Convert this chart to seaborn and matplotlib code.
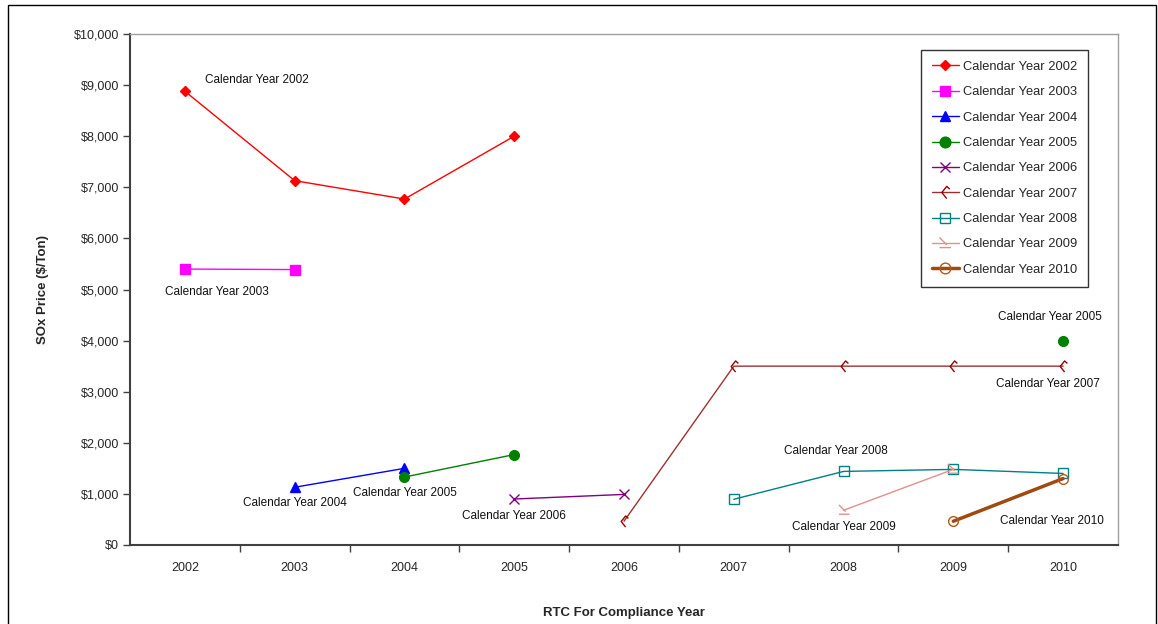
import numpy as np
import pandas as pd
import matplotlib
matplotlib.use("Agg")
import matplotlib.pyplot as plt
from matplotlib.path import Path
from matplotlib.patches import Rectangle
from matplotlib.ticker import FixedLocator, FuncFormatter
import seaborn as sns

# RTC compliance years on the category axis
rtc_years = [2002, 2003, 2004, 2005, 2006, 2007, 2008, 2009, 2010]

# SOx RTC prices ($/ton) traded in each calendar year, by compliance year
nan = np.nan
price_2002 = [8880, 7130, 6770, 8000, nan, nan, nan, nan, nan]
price_2003 = [5400, 5390, nan, nan, nan, nan, nan, nan, nan]
price_2004 = [nan, 1130, 1500, nan, nan, nan, nan, nan, nan]
price_2005 = [nan, nan, 1330, 1770, nan, nan, nan, nan, 4000]
price_2006 = [nan, nan, nan, 900, 990, nan, nan, nan, nan]
price_2007 = [nan, nan, nan, nan, 465, 3500, 3500, 3500, 3500]
price_2008 = [nan, nan, nan, nan, nan, 895, 1440, 1480, 1400]
price_2009 = [nan, nan, nan, nan, nan, nan, 680, 1480, nan]
price_2010 = [nan, nan, nan, nan, nan, nan, nan, 465, 1300]

series_names = ["Calendar Year 2002", "Calendar Year 2003", "Calendar Year 2004",
                "Calendar Year 2005", "Calendar Year 2006", "Calendar Year 2007",
                "Calendar Year 2008", "Calendar Year 2009", "Calendar Year 2010"]
series_values = [price_2002, price_2003, price_2004, price_2005, price_2006,
                 price_2007, price_2008, price_2009, price_2010]

# in-plot labels: text, x (year), y ($)
label_texts = ["Calendar Year 2002", "Calendar Year 2003", "Calendar Year 2004",
               "Calendar Year 2005", "Calendar Year 2006", "Calendar Year 2005",
               "Calendar Year 2007", "Calendar Year 2008", "Calendar Year 2009",
               "Calendar Year 2010"]
label_x = [2002.66, 2002.29, 2003.0, 2004.0, 2005.0, 2009.88, 2009.86, 2007.93, 2008.0, 2009.9]
label_y = [9100, 4950, 820, 1020, 570, 4460, 3150, 1840, 350, 470]

# custom hooked marks
hook_marker = Path([(0.7, 0.55), (0.2, 1.0), (-0.6, 0.0), (0.2, -1.0)],
                   [Path.MOVETO, Path.LINETO, Path.LINETO, Path.LINETO])
half_triangle = Path([(-0.9, 0.9), (0.2, -0.2), (-0.9, -0.6), (0.8, -0.6)],
                     [Path.MOVETO, Path.LINETO, Path.MOVETO, Path.LINETO])

styles = [
    dict(color="#FF0000", marker="D", ms=5, mfc="#FF0000", mec="#FF0000", lw=1.0),
    dict(color="#FF00FF", marker="s", ms=7, mfc="#FF00FF", mec="#FF00FF", lw=1.0),
    dict(color="#0000FF", marker="^", ms=7, mfc="#0000FF", mec="#0000FF", lw=1.0),
    dict(color="#008000", marker="o", ms=7, mfc="#008000", mec="#008000", lw=1.0),
    dict(color="#800080", marker="x", ms=7, mfc="#800080", mec="#800080", lw=1.0),
    dict(color="#A03030", marker=hook_marker, ms=8, mfc="none", mec="#990000", lw=1.0),
    dict(color="#008080", marker="s", ms=7, mfc="none", mec="#008080", lw=1.0),
    dict(color="#E09090", marker=half_triangle, ms=8, mfc="none", mec="#E09090", lw=1.0),
    dict(color="#A04A10", marker="o", ms=7, mfc="none", mec="#B05A20", lw=2.5),
]

sns.set_style("white")
plt.rcParams["font.family"] = ["Liberation Sans", "DejaVu Sans"]

fig = plt.figure(figsize=(11.58, 6.24), dpi=100)
ax = fig.add_axes([130 / 1158, 1 - 545 / 624, 988 / 1158, 511 / 624])


def contiguous_runs(years, values):
    runs, cur = [], []
    for yr, v in zip(years, values):
        if np.isnan(v):
            if cur:
                runs.append(cur)
            cur = []
        else:
            cur.append((yr, v))
    if cur:
        runs.append(cur)
    return runs


for name, vals, st in zip(series_names, series_values, styles):
    for i, run in enumerate(contiguous_runs(rtc_years, vals)):
        seg = pd.DataFrame(run, columns=["year", "price"])
        sns.lineplot(data=seg, x="year", y="price", ax=ax,
                     color=st["color"], linewidth=st["lw"],
                     marker=st["marker"], markersize=st["ms"],
                     markerfacecolor=st["mfc"], markeredgecolor=st["mec"],
                     markeredgewidth=1.0,
                     label=name if i == 0 else "_nolegend_")

for txt, lx, ly in zip(label_texts, label_x, label_y):
    ax.text(lx, ly, txt, ha="center", va="center", fontsize=8.5, color="#111111")

# axes
ax.set_xlim(2001.5, 2010.5)
ax.set_ylim(0, 10000)
ax.xaxis.set_major_locator(FixedLocator(rtc_years))
ax.xaxis.set_minor_locator(FixedLocator([y + 0.5 for y in rtc_years[:-1]]))
ax.yaxis.set_major_locator(FixedLocator(list(range(0, 10001, 1000))))
ax.yaxis.set_major_formatter(FuncFormatter(lambda v, p: "${:,.0f}".format(v)))
ax.tick_params(axis="x", which="major", length=0, pad=12, labelsize=9)
ax.tick_params(axis="x", which="minor", length=5, width=1, color="#404040", direction="out")
ax.tick_params(axis="y", which="major", length=5, width=1, color="#404040",
               direction="out", labelsize=9, pad=3)
ax.tick_params(axis="x", which="minor", bottom=True)
ax.tick_params(axis="y", left=True)

for side in ["left", "bottom"]:
    ax.spines[side].set_color("#404040")
    ax.spines[side].set_linewidth(1.5)
for side in ["top", "right"]:
    ax.spines[side].set_color("#A0A0A0")
    ax.spines[side].set_linewidth(1.0)

ax.set_xlabel("RTC For Compliance Year", fontsize=9.5, fontweight="bold", labelpad=24)
ax.set_ylabel("SOx Price ($/Ton)", fontsize=9.5, fontweight="bold", labelpad=18)

leg = ax.legend(loc="upper right", bbox_to_anchor=(0.9696, 0.9687), fontsize=9.3,
                frameon=True, fancybox=False, edgecolor="#000000",
                handlelength=2.1, labelspacing=1.03, borderpad=0.85,
                handletextpad=0.3, borderaxespad=0, markerscale=1.1)
leg.get_frame().set_linewidth(1.0)

# outer chart border
fig.patches.append(Rectangle((8 / 1158, -0.02), 1148 / 1158, 1 - 5 / 624 + 0.02,
                             transform=fig.transFigure, fill=False,
                             edgecolor="#000000", linewidth=1.0))

fig.savefig("out.png", dpi=100)
